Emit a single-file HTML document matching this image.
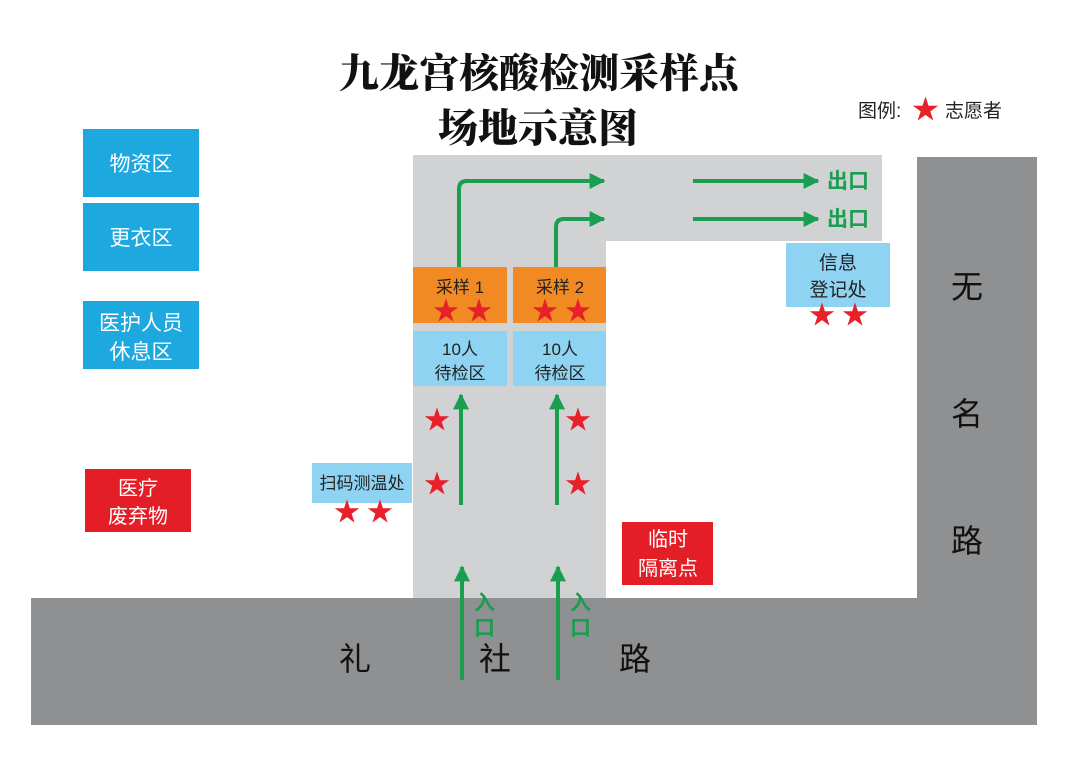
<!DOCTYPE html>
<html><head><meta charset="utf-8"><style>
body{margin:0;background:#fff}
svg text{font-family:"Liberation Sans","Noto Sans CJK SC",sans-serif}
.t{font-family:"Liberation Serif","Noto Serif CJK SC",serif;font-weight:900}
</style></head><body>
<svg width="1080" height="764" viewBox="0 0 1080 764" xmlns="http://www.w3.org/2000/svg">
<defs>
<marker id="ah" viewBox="0 0 10 10" refX="9" refY="5" markerWidth="4" markerHeight="4" orient="auto"><path d="M0,0L10,5L0,10z" fill="#1a9e50"/></marker>
</defs>
<rect width="1080" height="764" fill="#fff"/>
<text class="t" x="539" y="87" font-size="40" text-anchor="middle" fill="#111">九龙宫核酸检测采样点</text>
<text class="t" x="538" y="142" font-size="40" text-anchor="middle" fill="#111">场地示意图</text>
<text x="858" y="117" font-size="19" fill="#222">图例:</text>
<text x="912" y="119" font-size="27" fill="#e8202a">★</text>
<text x="945" y="117" font-size="19" fill="#222">志愿者</text>
<rect x="413" y="155" width="469" height="86" fill="#d1d2d4"/>
<rect x="413" y="155" width="193" height="445" fill="#d1d2d4"/>
<rect x="917" y="157" width="120" height="568" fill="#8f9092"/>
<rect x="31" y="598" width="1006" height="127" fill="#8f9092"/>
<text x="967" y="298" font-size="32" text-anchor="middle" fill="#111">无</text>
<text x="967" y="425" font-size="32" text-anchor="middle" fill="#111">名</text>
<text x="967" y="552" font-size="32" text-anchor="middle" fill="#111">路</text>
<text x="355" y="670" font-size="32" text-anchor="middle" fill="#111">礼</text>
<text x="495" y="670" font-size="32" text-anchor="middle" fill="#111">社</text>
<text x="635" y="670" font-size="32" text-anchor="middle" fill="#111">路</text>
<rect x="83" y="129" width="116" height="68" fill="#1ea8e0"/>
<text x="141" y="171" font-size="21" text-anchor="middle" fill="#fff">物资区</text>
<rect x="83" y="203" width="116" height="68" fill="#1ea8e0"/>
<text x="141" y="245" font-size="21" text-anchor="middle" fill="#fff">更衣区</text>
<rect x="83" y="301" width="116" height="68" fill="#1ea8e0"/>
<text x="141" y="330" font-size="21" text-anchor="middle" fill="#fff">医护人员</text>
<text x="141" y="359" font-size="21" text-anchor="middle" fill="#fff">休息区</text>
<rect x="85" y="469" width="106" height="63" fill="#e31e26"/>
<text x="138" y="495" font-size="20" text-anchor="middle" fill="#fff">医疗</text>
<text x="138" y="523" font-size="20" text-anchor="middle" fill="#fff">废弃物</text>
<rect x="622" y="522" width="91" height="63" fill="#e31e26"/>
<text x="668" y="546" font-size="20" text-anchor="middle" fill="#fff">临时</text>
<text x="668" y="575" font-size="20" text-anchor="middle" fill="#fff">隔离点</text>
<rect x="413" y="267" width="94" height="56" fill="#f28a24"/>
<rect x="513" y="267" width="93" height="56" fill="#f28a24"/>
<text x="460" y="293" font-size="17" text-anchor="middle" fill="#222">采样 1</text>
<text x="560" y="293" font-size="17" text-anchor="middle" fill="#222">采样 2</text>
<rect x="413" y="331" width="94" height="55" fill="#8fd3f3"/>
<rect x="513" y="331" width="93" height="55" fill="#8fd3f3"/>
<text x="460" y="355" font-size="17" text-anchor="middle" fill="#222">10人</text>
<text x="460" y="379" font-size="17" text-anchor="middle" fill="#222">待检区</text>
<text x="560" y="355" font-size="17" text-anchor="middle" fill="#222">10人</text>
<text x="560" y="379" font-size="17" text-anchor="middle" fill="#222">待检区</text>
<rect x="786" y="243" width="104" height="64" fill="#8fd3f3"/>
<text x="838" y="269" font-size="19" text-anchor="middle" fill="#222">信息</text>
<text x="838" y="296" font-size="19" text-anchor="middle" fill="#222">登记处</text>
<rect x="312" y="463" width="100" height="40" fill="#8fd3f3"/>
<text x="362" y="489" font-size="17" text-anchor="middle" fill="#222">扫码测温处</text>
<g font-size="26" fill="#e8202a" text-anchor="middle">
<text x="446" y="320">★</text><text x="479" y="320">★</text>
<text x="545" y="320">★</text><text x="578" y="320">★</text>
<text x="822" y="324">★</text><text x="855" y="324">★</text>
<text x="437" y="429">★</text><text x="437" y="493">★</text>
<text x="578" y="429">★</text><text x="578" y="493">★</text>
<text x="347" y="521">★</text><text x="380" y="521">★</text>
</g>
<g stroke="#1a9e50" stroke-width="4" fill="none" marker-end="url(#ah)">
<path d="M459,267 V189 Q459,181 467,181 H604"/>
<path d="M556,267 V227 Q556,219 564,219 H604"/>
<path d="M693,181 H818"/>
<path d="M693,219 H818"/>
<path d="M461,505 V395"/>
<path d="M557,505 V395"/>
<path d="M462,680 V567"/>
<path d="M558,680 V567"/>
</g>
<g font-size="21" font-weight="bold" fill="#1a9e50">
<text x="827" y="188">出口</text>
<text x="827" y="226">出口</text>
<text x="474" y="610">入</text><text x="474" y="635">口</text>
<text x="570" y="610">入</text><text x="570" y="635">口</text>
</g>
</svg>
</body></html>
